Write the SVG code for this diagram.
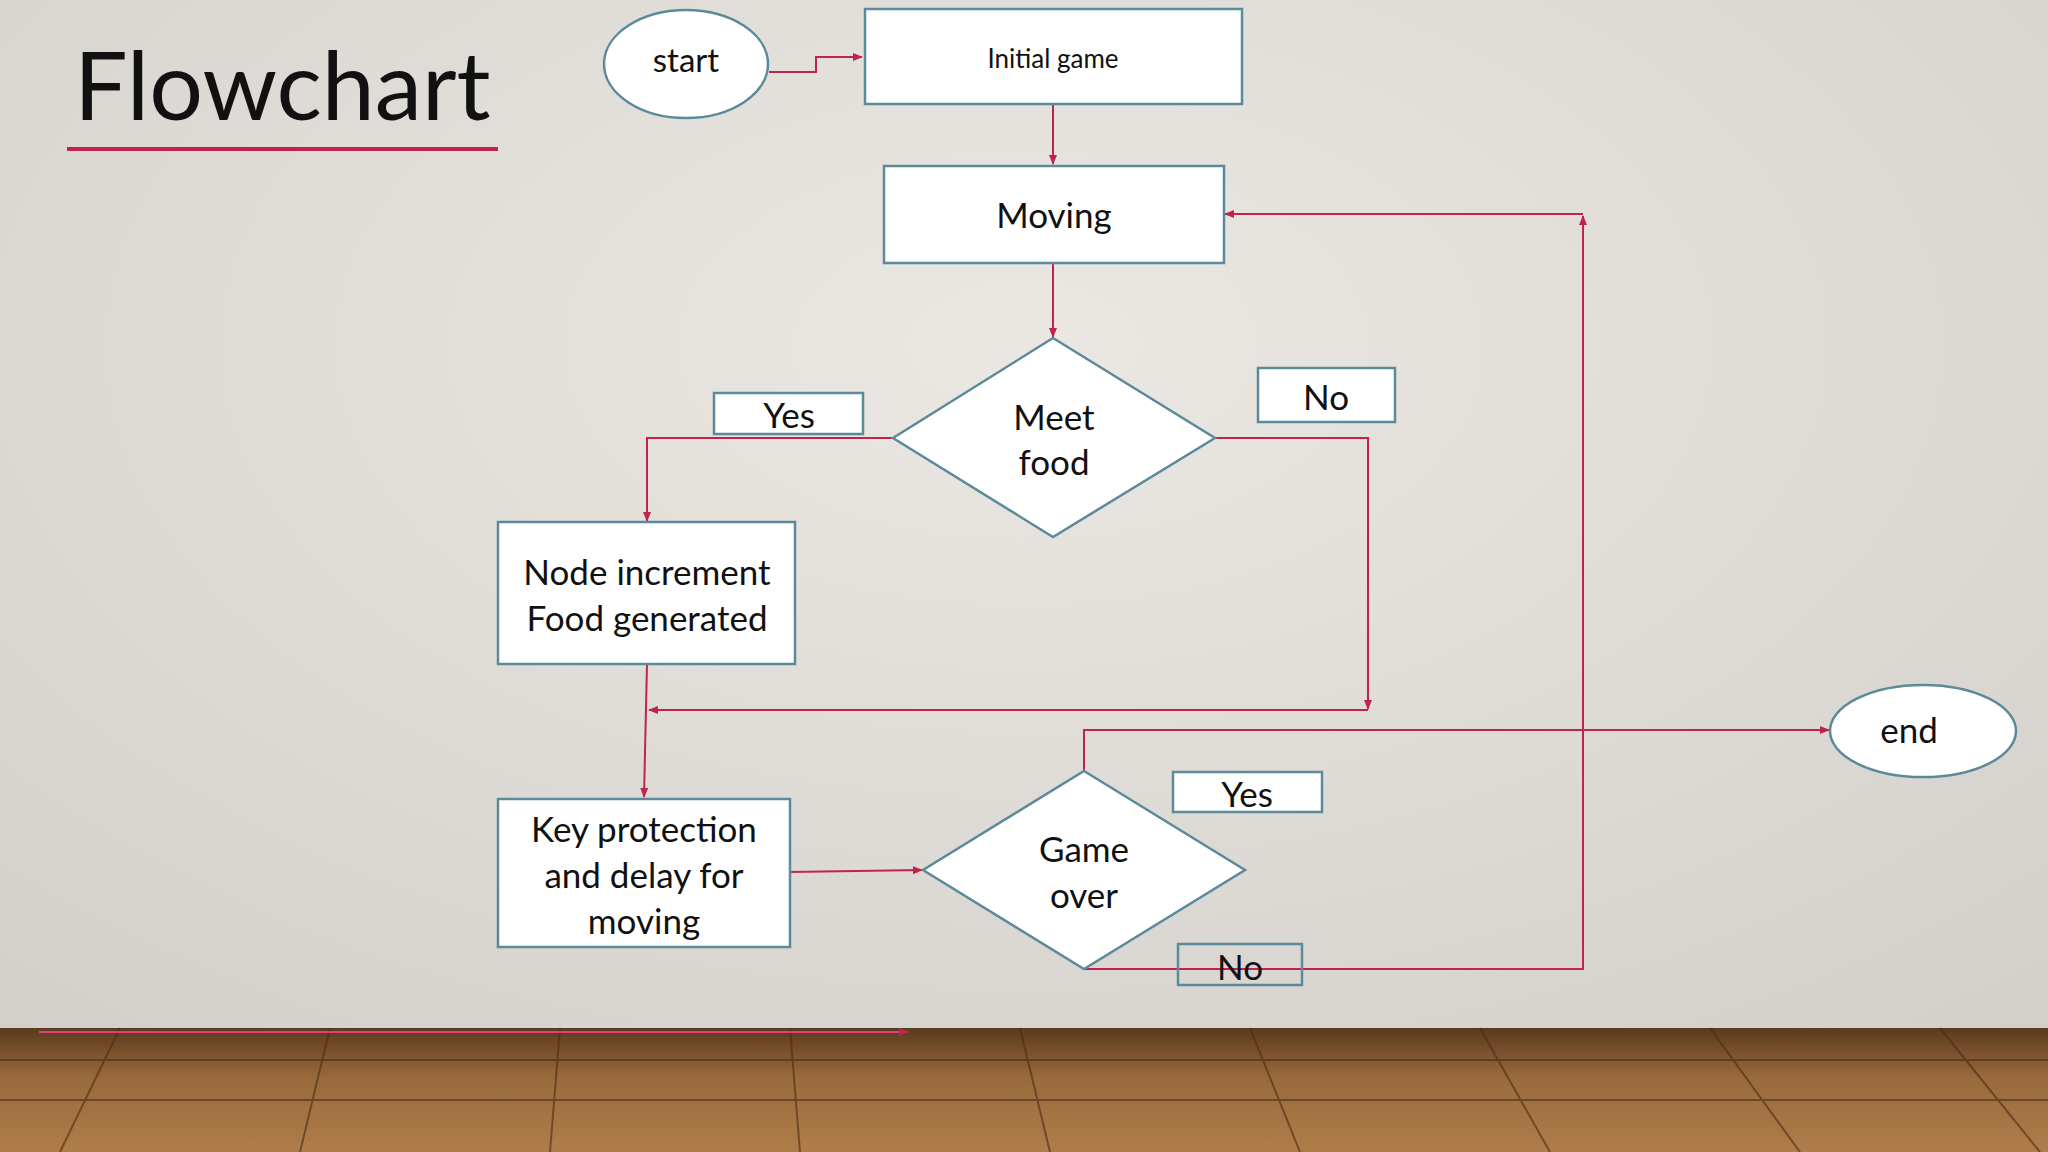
<svg xmlns="http://www.w3.org/2000/svg" width="2048" height="1152" viewBox="0 0 2048 1152">
<defs>
<radialGradient id="wall" cx="0.5" cy="0.3" r="0.8">
<stop offset="0" stop-color="#ebe8e4"/><stop offset="1" stop-color="#d2cfca"/>
</radialGradient>
<linearGradient id="floor" x1="0" y1="0" x2="0" y2="1">
<stop offset="0" stop-color="#5a3a1e"/><stop offset="0.4" stop-color="#9a6a3c"/><stop offset="1" stop-color="#b07d4a"/>
</linearGradient>
<marker id="ah" markerWidth="10" markerHeight="10" refX="9" refY="5" orient="auto" markerUnits="userSpaceOnUse">
<path d="M0,1 L10,5 L0,9 Z" fill="#c0234b"/>
</marker>
</defs>
<style>
.n{fill:#fff;stroke:#5b8a9a;stroke-width:2.5}
.c{fill:none;stroke:#c0234b;stroke-width:2;marker-end:url(#ah)}
text{font-family:Lato,"Open Sans",sans-serif;fill:#111;text-anchor:middle}
.t{font-size:35px}
</style>
<rect width="2048" height="1152" fill="url(#wall)"/>
<rect y="1028" width="2048" height="124" fill="url(#floor)"/>
<g stroke="#4a2c14" stroke-width="2" opacity="0.6">
<line x1="0" y1="1060" x2="2048" y2="1060"/><line x1="0" y1="1100" x2="2048" y2="1100"/>
<line x1="120" y1="1028" x2="60" y2="1152"/><line x1="330" y1="1028" x2="300" y2="1152"/><line x1="560" y1="1028" x2="550" y2="1152"/><line x1="790" y1="1028" x2="800" y2="1152"/><line x1="1020" y1="1028" x2="1050" y2="1152"/><line x1="1250" y1="1028" x2="1300" y2="1152"/><line x1="1480" y1="1028" x2="1550" y2="1152"/><line x1="1710" y1="1028" x2="1800" y2="1152"/><line x1="1940" y1="1028" x2="2040" y2="1152"/>
</g>
<text x="74" y="120" style="font-size:95px;text-anchor:start">Flowchart</text>
<line x1="67" y1="149" x2="498" y2="149" stroke="#c0234b" stroke-width="4"/>
<g id="connectors">
<polyline class="c" points="769,72 816,72 816,57 862,57"/>
<line class="c" x1="1053" y1="104" x2="1053" y2="164"/>
<line class="c" x1="1053" y1="263" x2="1053" y2="337"/>
<polyline class="c" points="893,438 647,438 647,521"/>
<polyline class="c" points="1215,438 1368,438 1368,709"/>
<line class="c" x1="1368" y1="710" x2="649" y2="710"/>
<line class="c" x1="647" y1="664" x2="644" y2="797"/>
<line class="c" x1="790" y1="872" x2="922" y2="870"/>
<polyline class="c" points="1084,771 1084,730 1829,730"/>
<polyline class="c" points="1084,969 1583,969 1583,216"/>
<line class="c" x1="1583" y1="214" x2="1225" y2="214"/>
<line class="c" x1="39" y1="1032" x2="908" y2="1032" style="stroke:#e0407a"/>
</g>
<g id="start"><ellipse class="n" cx="686" cy="64" rx="82" ry="54"/><text class="t" x="686" y="72" style="font-size:33px">start</text></g>
<g id="initial"><rect class="n" x="865" y="9" width="377" height="95"/><text x="1053" y="68" style="font-size:26px">Initial game</text></g>
<g id="moving"><rect class="n" x="884" y="166" width="340" height="97"/><text class="t" x="1054" y="228">Moving</text></g>
<g id="meetfood"><polygon class="n" points="1053,338 1215,438 1053,537 893,438"/><text class="t" x="1054" y="430">Meet</text><text class="t" x="1054" y="475">food</text></g>
<g id="yes1"><rect class="n" x="714" y="393" width="149" height="41"/><text class="t" x="789" y="428">Yes</text></g>
<g id="no1"><rect class="n" x="1258" y="368" width="137" height="54"/><text class="t" x="1326" y="410">No</text></g>
<g id="nodeinc"><rect class="n" x="498" y="522" width="297" height="142"/><text class="t" x="647" y="585">Node increment</text><text class="t" x="647" y="631">Food generated</text></g>
<g id="keyprot"><rect class="n" x="498" y="799" width="292" height="148"/><text class="t" x="644" y="842">Key protection</text><text class="t" x="644" y="888">and delay for</text><text class="t" x="644" y="934">moving</text></g>
<g id="gameover"><polygon class="n" points="1084,771 1245,870 1084,969 923,870"/><text class="t" x="1084" y="862">Game</text><text class="t" x="1084" y="908">over</text></g>
<g id="yes2"><rect class="n" x="1173" y="772" width="149" height="40"/><text class="t" x="1247" y="807">Yes</text></g>
<g id="no2"><rect class="n" x="1178" y="944" width="124" height="41" style="fill:none"/><text class="t" x="1240" y="980">No</text></g>
<g id="end"><ellipse class="n" cx="1923" cy="731" rx="93" ry="46"/><text class="t" x="1909" y="743">end</text></g>
</svg>
